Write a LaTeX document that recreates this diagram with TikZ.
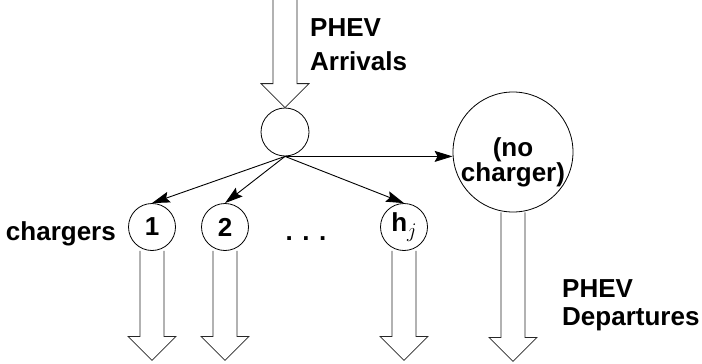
\documentclass[tikz,border=0pt]{standalone}
\usepackage{fontspec}
\setmainfont{Liberation Sans}
\usetikzlibrary{arrows.meta,calc}
\begin{document}
\begin{tikzpicture}[x=1pt,y=-1pt,
  circ/.style={circle,draw,line width=0.8pt,inner sep=0pt},
  lbl/.style={font=\fontsize{26}{26}\selectfont\bfseries,inner sep=0pt},
  flow/.style={line width=0.9pt,-{Stealth[length=18pt,width=11pt,inset=3pt]}},
  hollow/.style={line width=0.8pt,draw=black!85},
  pics/harrow/.style={code={
    \draw[hollow] (-12,-#1) -- (-12,-24) -- (-24,-24) -- (0,0) -- (24,-24) -- (12,-24) -- (12,-#1);
  }}
]
\useasboundingbox (0,0) rectangle (702,364);

% nodes
\node[circ,minimum size=48pt] (c0) at (285,132) {};
\node[circ,minimum size=47pt,lbl] (c1) at (152,227) {1};
\node[circ,minimum size=47pt,lbl] (c2) at (225,227) {2};
\node[circ,minimum size=47pt,lbl] (ch) at (404,227) {h\raisebox{-6pt}{\fontsize{20}{20}\selectfont$j$}};
\node[circ,minimum size=120pt] (nc) at (513,152) {};
\node[lbl,align=center,font=\fontsize{26}{23}\selectfont\bfseries] (ncl) at (513,162) {(no\\charger)};

% labels
\node[lbl,anchor=base west] (a1) at (310,36) {PHEV};
\node[lbl,anchor=base west] (a2) at (310,70) {Arrivals};
\node[lbl,anchor=base west] (d1) at (562,297) {PHEV};
\node[lbl,anchor=base west] (d2) at (562,325) {Departures};
\node[lbl,anchor=base east] (chl) at (116,240) {chargers};
\node[lbl,anchor=base] (dots) at (306,240) {. . .};

% flows
\draw[flow] (c0.south) -- (c1.north);
\draw[flow] (c0.south) -- (c2.north);
\draw[flow] (c0.south) -- (ch.north);
\draw[flow] (c0.south) -- (c0.south -| nc.west);

% hollow arrows
\pic at (c0.north) {harrow=108};
\pic at ($(c1.south)+(0,109.5)$) {harrow=109.5};
\pic at ($(c2.south)+(0,109.5)$) {harrow=109.5};
\pic at ($(ch.south)+(0,109.5)$) {harrow=109.5};
\pic at ($(nc.south)+(0,149)$) {harrow=149};
\end{tikzpicture}
\end{document}
